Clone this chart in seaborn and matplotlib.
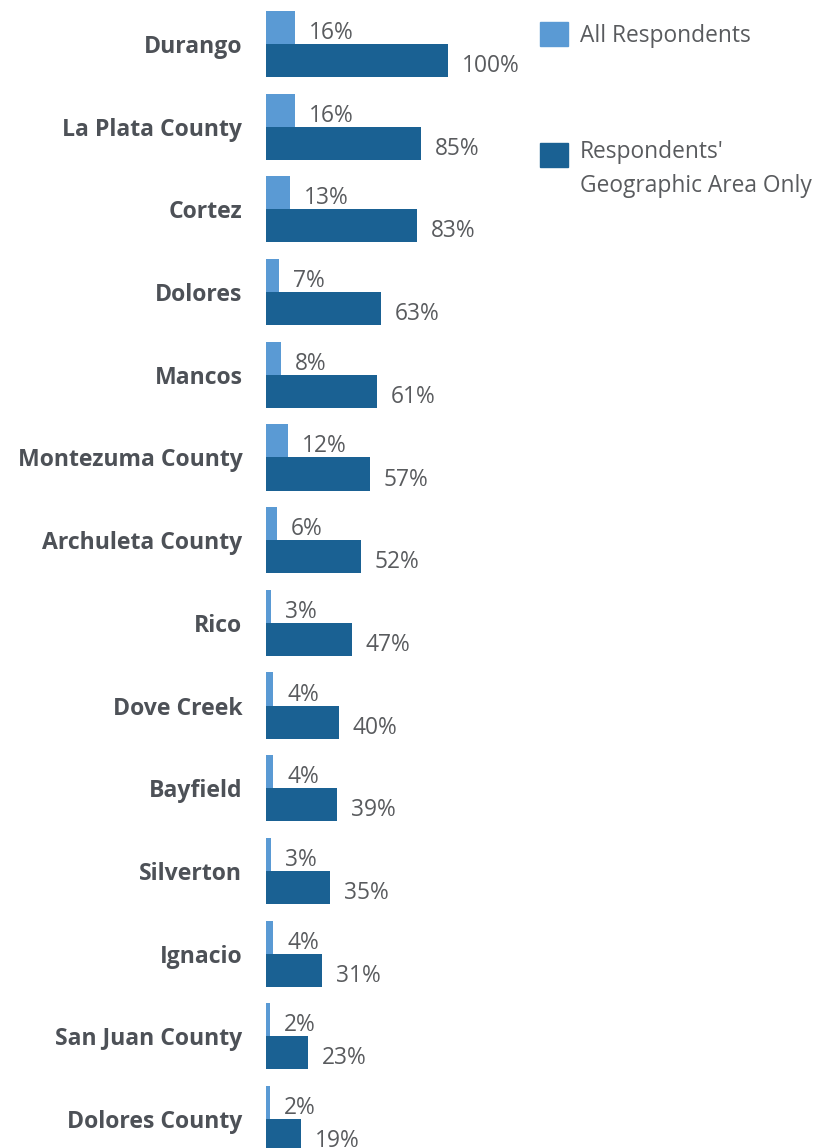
import matplotlib
matplotlib.use("Agg")
import matplotlib.pyplot as plt
import pandas as pd
import seaborn as sns
from matplotlib.patches import Rectangle
from matplotlib.legend_handler import HandlerPatch

categories = ["Durango", "La Plata County", "Cortez", "Dolores", "Mancos",
              "Montezuma County", "Archuleta County", "Rico", "Dove Creek",
              "Bayfield", "Silverton", "Ignacio", "San Juan County", "Dolores County"]
all_respondents = [16, 16, 13, 7, 8, 12, 6, 3, 4, 4, 3, 4, 2, 2]
geo_area_only = [100, 85, 83, 63, 61, 57, 52, 47, 40, 39, 35, 31, 23, 19]
series = ["All Respondents", "Respondents'\nGeographic Area Only"]

LIGHT = "#5A9AD4"
DARK = "#1A6193"
LABEL_COLOR = "#4D5157"
VALUE_COLOR = "#595B5E"

df = pd.DataFrame({
    "Area": categories * 2,
    "Percent": all_respondents + geo_area_only,
    "Series": [series[0]] * len(categories) + [series[1]] * len(categories),
})

sns.set_theme(style="white")
plt.rcParams['font.family'] = ['Open Sans', 'DejaVu Sans']

W, H = 828, 1148
fig = plt.figure(figsize=(W / 100, H / 100), dpi=100)
ax = fig.add_axes([266 / W, 0, (448 - 266) / W, 1])

sns.barplot(data=df, y="Area", x="Percent", hue="Series", order=categories,
            hue_order=series, palette=[LIGHT, DARK], orient="h", width=0.8,
            saturation=1, legend=False, linewidth=0, ax=ax)

ax.set_xlim(0, 100)
ax.set_ylim(13 + (H - 1119) / 82.7, -44 / 82.7)
for s in ax.spines.values():
    s.set_visible(False)
ax.set_xticks([])
ax.set_xlabel("")
ax.set_ylabel("")
ax.tick_params(axis="y", length=0, pad=17)
for t in ax.get_yticklabels():
    t.set_fontweight("bold")
    t.set_fontsize(16.6)
    t.set_color(LABEL_COLOR)

for container in ax.containers:
    for bar in container:
        w = bar.get_width()
        ax.annotate(f"{w:.0f}%", xy=(w, bar.get_y() + bar.get_height() / 2),
                    xytext=(10, -4), textcoords="offset points",
                    ha="left", va="center", fontsize=16.4, color=VALUE_COLOR,
                    annotation_clip=False)


def shifted_patch(shift):
    def make(legend, orig_handle, xdescent, ydescent, width, height, fontsize):
        return Rectangle((-xdescent, -ydescent + shift), width, height)
    return make


handles = [Rectangle((0, 0), 1, 1, color=LIGHT), Rectangle((0, 0), 1, 1, color=DARK)]
leg = fig.legend(handles, series, loc="upper left",
                 bbox_to_anchor=(540 / W, 1 - 22 / H), frameon=False,
                 fontsize=16.4, handlelength=1.23, handleheight=1.23,
                 handletextpad=0.52, labelspacing=4.08, borderpad=0,
                 borderaxespad=0,
                 handler_map={handles[1]: HandlerPatch(patch_func=shifted_patch(11.5))})
for t in leg.get_texts():
    t.set_color(VALUE_COLOR)
    t.set_linespacing(1.55)

fig.savefig("out.png", dpi=100)
